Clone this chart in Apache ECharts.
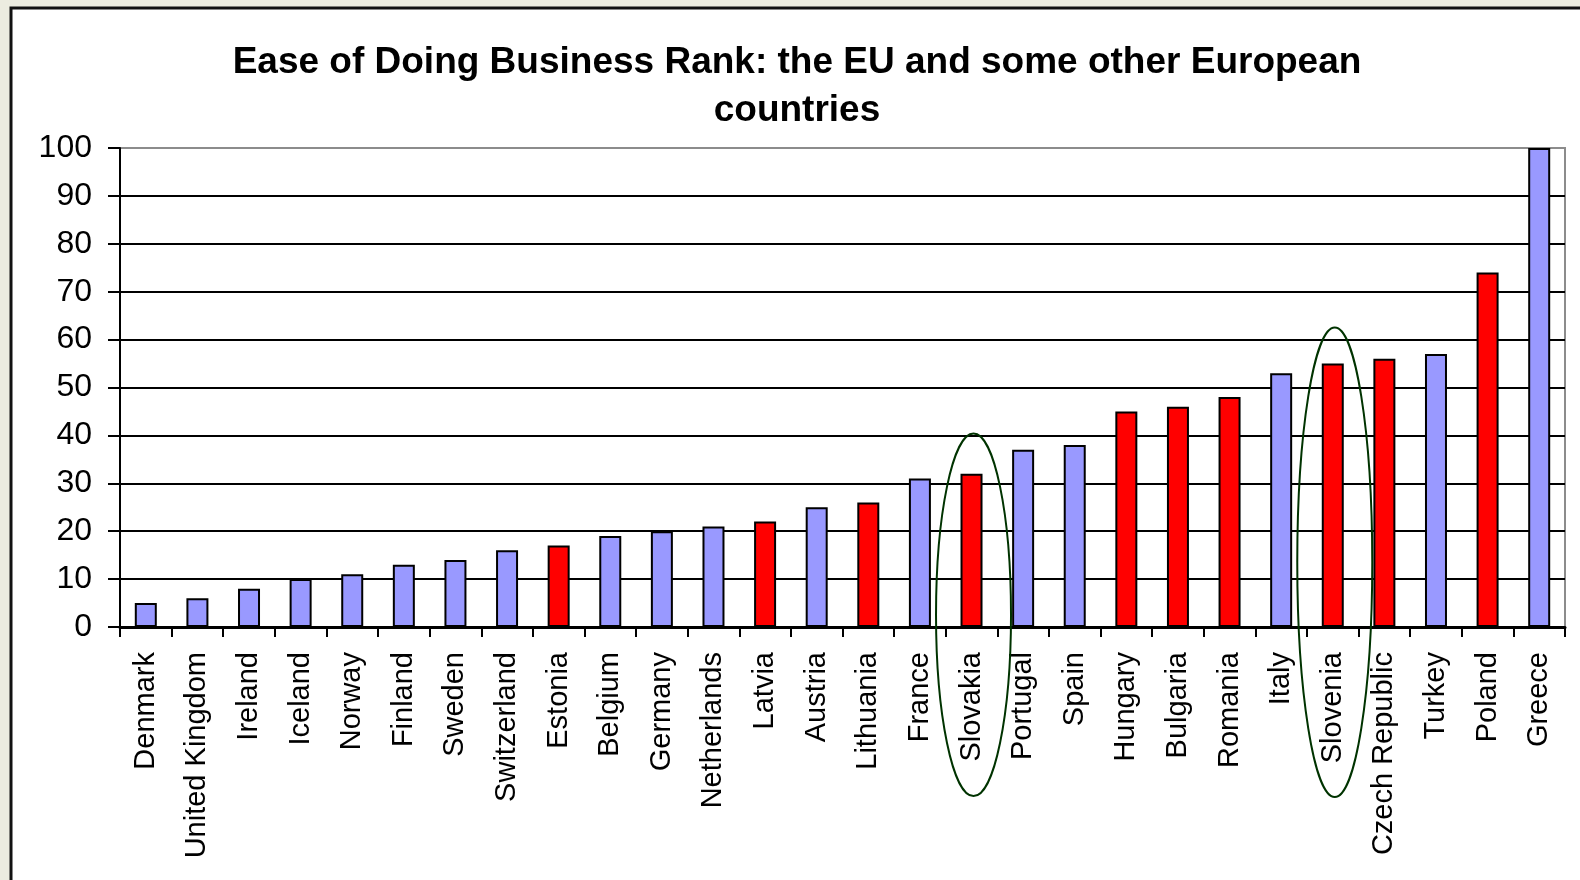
<!DOCTYPE html>
<html>
<head>
<meta charset="utf-8">
<script src="https://cdn.jsdelivr.net/npm/echarts@6/dist/echarts.min.js"></script>
<style>
html,body{margin:0;padding:0;background:#ECECE0;}
#chart{width:1580px;height:880px;}
</style>
</head>
<body>
<div id="chart"></div>
<script>
// ---- data ----
const titleText = 'Ease of Doing Business Rank: the EU and some other European\ncountries';
const countries = ['Denmark','United Kingdom','Ireland','Iceland','Norway','Finland','Sweden','Switzerland','Estonia','Belgium','Germany','Netherlands','Latvia','Austria','Lithuania','France','Slovakia','Portugal','Spain','Hungary','Bulgaria','Romania','Italy','Slovenia','Czech Republic','Turkey','Poland','Greece'];
const ranks = [5,6,8,10,11,13,14,16,17,19,20,21,22,25,26,31,32,37,38,45,46,48,53,55,56,57,74,100];
// 1 = new EU member (red), 0 = other (blue)
const newMember = [0,0,0,0,0,0,0,0,1,0,0,0,1,0,1,0,1,0,0,1,1,1,0,1,1,0,1,0];
const yTicks = [0,10,20,30,40,50,60,70,80,90,100];
const circled = ['Slovakia','Slovenia'];

const FONT = '"Liberation Sans", Arial, sans-serif';
const BLUE = '#9999FF', RED = '#FF0000';

const chart = echarts.init(document.getElementById('chart'));
const option = {
  backgroundColor: '#ECECE0',
  animation: false,
  grid: {left: 120, right: 15, top: 148, bottom: 253, show: true, backgroundColor: '#fff', borderColor: '#8c8c8c', borderWidth: 2, containLabel: false},
  xAxis: {
    type: 'category',
    data: countries,
    axisLine: {lineStyle: {color: '#000', width: 3}},
    axisTick: {show: true, length: 10, lineStyle: {color: '#000', width: 2}},
    axisLabel: {rotate: 90, interval: 0, margin: 25, color: '#000', fontFamily: FONT, fontSize: 29}
  },
  yAxis: {
    type: 'value',
    min: yTicks[0], max: yTicks[yTicks.length-1], interval: 10,
    axisLine: {show: true, lineStyle: {color: '#000', width: 2}},
    axisTick: {show: true, length: 12, lineStyle: {color: '#000', width: 2}},
    axisLabel: {margin: 28, color: '#000', fontFamily: FONT, fontSize: 32},
    splitLine: {show: true, showMaxLine: false, lineStyle: {color: '#000', width: 2}}
  },
  series: [{
    type: 'bar',
    barWidth: 22,
    data: ranks.map((v, i) => ({value: v, itemStyle: {color: newMember[i] ? RED : BLUE}})),
    itemStyle: {borderColor: '#000', borderWidth: 2}
  }]
};
chart.setOption(option);

// frame, title and annotation ellipses around circled countries (positioned through the axes)
const ellipseSpec = {Slovakia: {top: 40.4, bottom: -35.3}, Slovenia: {top: 62.5, bottom: -35.5}};
const graphics = [{
  type: 'rect', z: -100, silent: true,
  shape: {x: 11, y: 8, width: 1600, height: 900},
  style: {fill: '#fff', stroke: '#111', lineWidth: 3}
}, {
  type: 'text', z: 50, silent: true,
  x: 797, y: 39,
  style: {text: titleText, align: 'center', verticalAlign: 'top', fill: '#000',
          font: 'bold 37px ' + FONT, lineHeight: 48}
}];
circled.forEach(name => {
  const sp = ellipseSpec[name];
  const pTop = chart.convertToPixel({gridIndex: 0}, [name, sp.top]);
  const pBot = chart.convertToPixel({gridIndex: 0}, [name, sp.bottom]);
  const cx = pTop[0] + 2;
  graphics.push({
    type: 'ellipse', z: 100, silent: true,
    shape: {cx: cx, cy: (pTop[1] + pBot[1]) / 2, rx: 37.5, ry: (pBot[1] - pTop[1]) / 2},
    style: {fill: 'none', stroke: '#003300', lineWidth: 2}
  });
});
chart.setOption({graphic: graphics});
</script>
</body>
</html>
